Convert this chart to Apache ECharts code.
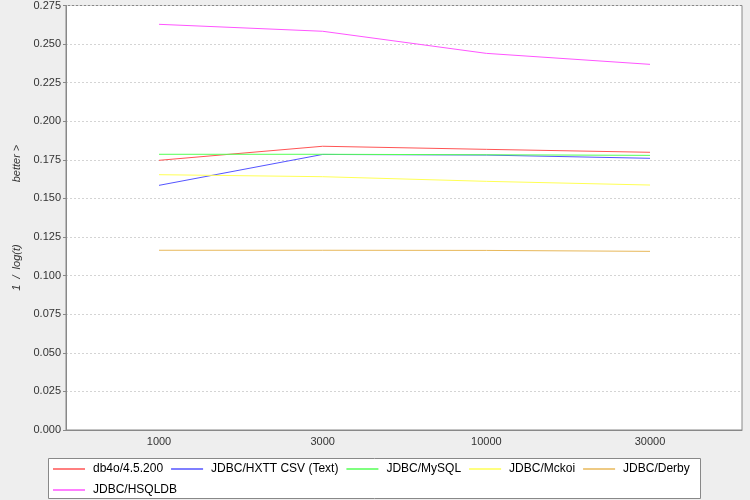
<!DOCTYPE html>
<html><head><meta charset="utf-8">
<script src="https://cdn.jsdelivr.net/npm/echarts@6/dist/echarts.min.js"></script>
<style>html,body{margin:0;padding:0;background:#eeeeee}#c{width:750px;height:500px}</style>
</head><body><div id="c"></div>
<script>
const categories = ['1000', '3000', '10000', '30000'];
const seriesNames = ['db4o/4.5.200', 'JDBC/HXTT CSV (Text)', 'JDBC/MySQL', 'JDBC/Mckoi', 'JDBC/Derby', 'JDBC/HSQLDB'];
const db4o   = [0.1745, 0.1836, 0.1816, 0.1797];
const hxtt   = [0.1583, 0.1783, 0.1779, 0.1758];
const mysql  = [0.1784, 0.1784, 0.1781, 0.1777];
const mckoi  = [0.1652, 0.1639, 0.1609, 0.1585];
const derby  = [0.1163, 0.1163, 0.1162, 0.1156];
const hsqldb = [0.2625, 0.2580, 0.2437, 0.2366];
const yMin = 0, yMax = 0.275, yStep = 0.025;
const colors = ['#ff5555', '#5555ff', '#55ff55', '#ffff55', '#e8b85a', '#ff55ff'];
const values = [db4o, hxtt, mysql, mckoi, derby, hsqldb];
const FONT = 'Liberation Sans, Arial, sans-serif';

const legendBase = {
  orient: 'horizontal', left: 53, padding: 0,
  icon: 'rect', itemWidth: 32, itemHeight: 1.5, itemGap: 8,
  textStyle: { fontFamily: FONT, fontSize: 12, color: '#000', padding: [0, 0, 0, 3] }
};

const chart = echarts.init(document.getElementById('c'));
chart.setOption({
  backgroundColor: '#eeeeee',
  animation: false,
  graphic: [{
    type: 'rect', z: 0,
    shape: { x: 48.5, y: 458.5, width: 652, height: 40 },
    style: { fill: '#ffffff', stroke: '#888888', lineWidth: 1 }
  }],
  legend: [
    Object.assign({}, legendBase, { top: 463, data: seriesNames.slice(0, 5) }),
    Object.assign({}, legendBase, { top: 484, data: seriesNames.slice(5) })
  ],
  grid: [
    { left: 159, right: 100, top: 5, bottom: 70 },
    { left: 66, right: 8, top: 5, bottom: 70, show: true, backgroundColor: '#ffffff', borderColor: '#888888', borderWidth: 1, z: -1 }
  ],
  xAxis: [
    { type: 'category', gridIndex: 0, data: categories, boundaryGap: false,
      axisLine: { show: false }, axisTick: { show: false }, splitLine: { show: false },
      axisLabel: { fontFamily: FONT, fontSize: 11, color: '#333', margin: 6 } },
    { type: 'value', gridIndex: 1, min: 0, max: 1, axisLabel: { show: false }, axisTick: { show: false },
      splitLine: { show: false }, axisLine: { show: true, lineStyle: { color: '#888888' } } }
  ],
  yAxis: [
    { type: 'value', gridIndex: 0, min: yMin, max: yMax, interval: yStep, show: false, splitLine: { show: false } },
    { type: 'value', gridIndex: 1, min: yMin, max: yMax, interval: yStep,
      axisLine: { show: true, lineStyle: { color: '#888888' } },
      axisTick: { show: true, length: 3, lineStyle: { color: '#888888' } },
      axisLabel: { fontFamily: FONT, fontSize: 11, color: '#333', margin: 5, formatter: v => v.toFixed(3) },
      splitLine: { show: true, lineStyle: { color: '#d4d4d4', type: [2, 2], width: 1 } },
      name: '{t|1  /  log(t)}{g|}{t|better >}',
      nameLocation: 'middle', nameGap: 32,
      nameTextStyle: { rich: { t: { fontFamily: FONT, fontSize: 11, fontStyle: 'italic', color: '#333' }, g: { width: 62 } } }
    }
  ],
  series: values.map((d, i) => ({
    name: seriesNames[i], type: 'line', xAxisIndex: 0, yAxisIndex: 0, data: d,
    symbol: 'none', color: colors[i], lineStyle: { width: 1, color: colors[i] }, z: 3
  }))
});
</script></body></html>
